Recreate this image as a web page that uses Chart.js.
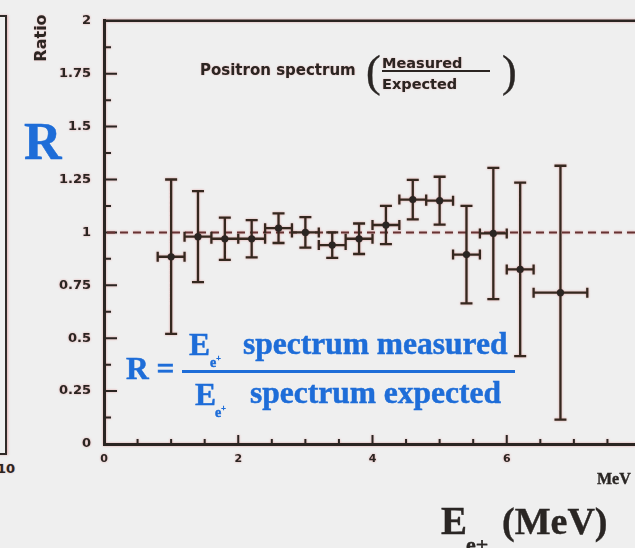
<!DOCTYPE html>
<html>
<head>
<meta charset="utf-8">
<title>Positron spectrum ratio</title>
<script src="https://cdn.jsdelivr.net/npm/chart.js@4/dist/chart.umd.min.js"></script>
<style>
  html, body { margin: 0; padding: 0; background: #efefef; overflow: hidden; }
  #wrap { position: relative; width: 635px; height: 548px; overflow: hidden; background: #efefef; }
  #c { position: absolute; left: 0; top: 0; filter: drop-shadow(0 0 1.2px rgba(220, 120, 120, 0.6)); }
  .t { position: absolute; white-space: nowrap; line-height: 1; margin: 0; }
  .sans { font-family: "DejaVu Sans", sans-serif; font-weight: bold; color: #2b2522;
          text-shadow: 0 0 1.5px rgba(220, 120, 120, 0.6); }
  .serif { font-family: "Liberation Serif", "Times New Roman", serif; font-weight: bold; }
  .blue { color: #1e6dd8; -webkit-text-stroke: 0.5px #1e6dd8; }
  .dark { color: #2a2624; -webkit-text-stroke: 0.4px #2a2624; }
  .bar { position: absolute; }
  #leftPanel { position: absolute; left: -10px; top: 15px; width: 17px; height: 440px;
               box-sizing: border-box; border: 2.5px solid #2f2a27;
               box-shadow: 1px 0 2px rgba(220, 120, 120, 0.5); }
</style>
</head>
<body>
<div id="wrap">
  <!-- edge of the neighbouring panel -->
  <div id="leftPanel"></div>
  <div class="t sans" style="left:-3px; top:462px; font-size:13px;">10</div>

  <canvas id="c" width="660" height="548"></canvas>

  <!-- axis titles -->
  <div class="t sans" style="left:41px; top:38px; font-size:16px; transform: translate(-50%, -50%) rotate(-90deg);">Ratio</div>
  <div class="t serif blue" style="left:24px; top:116px; font-size:52px;">R</div>
  <div class="t serif dark" style="left:597px; top:471px; font-size:16px;">MeV</div>
  <div class="t serif dark" style="left:441px; top:501px; font-size:39px;">E</div>
  <div class="t serif dark" style="left:466px; top:534px; font-size:22px;">e+</div>
  <div class="t serif dark" style="left:502px; top:502px; font-size:38px;">(MeV)</div>

  <!-- panel caption -->
  <div class="t sans" style="left:200px; top:63px; font-size:15px;">Positron spectrum</div>
  <div class="t serif dark" style="left:366px; top:50px; font-size:44px; font-weight:normal;">(</div>
  <div class="t sans" style="left:382px; top:56px; font-size:14.5px;">Measured</div>
  <div class="bar" style="left:382px; top:70px; width:108px; height:2px; background:#2b2522;"></div>
  <div class="t sans" style="left:382px; top:77px; font-size:14.5px;">Expected</div>
  <div class="t serif dark" style="left:502px; top:50px; font-size:44px; font-weight:normal;">)</div>

  <!-- definition of R -->
  <div class="t serif blue" style="left:126px; top:353px; font-size:31.5px;">R =</div>
  <div class="t serif blue" style="left:189px; top:329px; font-size:31.5px;">E</div>
  <div class="t serif blue" style="left:210px; top:355px; font-size:14px;">e<sup style="font-size:8px;">+</sup></div>
  <div class="t serif blue" style="left:243px; top:328px; font-size:31.5px;">spectrum measured</div>
  <div class="bar" style="left:182px; top:370px; width:333px; height:3px; background:#1e6dd8;"></div>
  <div class="t serif blue" style="left:195px; top:379px; font-size:31.5px;">E</div>
  <div class="t serif blue" style="left:215px; top:405px; font-size:14px;">e<sup style="font-size:8px;">+</sup></div>
  <div class="t serif blue" style="left:250px; top:377px; font-size:31.5px;">spectrum expected</div>
</div>

<script>
// Measured / expected positron spectrum ratio per energy bin
const energyMeV     = [1.0, 1.4, 1.8, 2.2, 2.6, 3.0, 3.4, 3.8, 4.2, 4.6, 5.0, 5.4, 5.8, 6.2, 6.8];
const binHalfWidth  = [0.2, 0.2, 0.2, 0.2, 0.2, 0.2, 0.2, 0.2, 0.2, 0.2, 0.2, 0.2, 0.2, 0.2, 0.4];
const ratio         = [0.885, 0.98, 0.97, 0.97, 1.02, 1.0, 0.94, 0.97, 1.035, 1.155, 1.15, 0.895, 0.995, 0.825, 0.715];
const ratioError    = [0.365, 0.215, 0.10, 0.088, 0.07, 0.072, 0.06, 0.072, 0.09, 0.093, 0.113, 0.23, 0.31, 0.41, 0.60];
const expectedRatio = 1;

const yTickLabels = ['0', '0.25', '0.5', '0.75', '1', '1.25', '1.5', '1.75', '2'];
const xTickLabels = ['0', '2', '4', '6'];

const INK = '#2b2522';

// Frame, inward tick marks, reference line and error bars
const frameAndErrors = {
  id: 'frameAndErrors',
  beforeDatasetsDraw(chart) {
    const { ctx, chartArea: a, scales: { x, y } } = chart;
    ctx.save();
    ctx.strokeStyle = INK;
    ctx.lineCap = 'butt';

    // top edge of the frame
    ctx.lineWidth = 2.5;
    ctx.beginPath();
    ctx.moveTo(a.left, a.top);
    ctx.lineTo(a.right, a.top);
    ctx.stroke();

    // inward ticks on the ratio axis (major 0.25, minor 0.125)
    ctx.lineWidth = 2;
    ctx.beginPath();
    for (let k = 1; k < 16; k++) {
      const v = y.min + k * 0.125;
      const py = y.getPixelForValue(v);
      const len = (k % 2 === 0) ? 13 : 7;
      ctx.moveTo(a.left, py);
      ctx.lineTo(a.left + len, py);
    }
    // inward ticks on the energy axis (major 2, minor 0.5)
    for (let k = 1; k < 16; k++) {
      const v = x.min + k * 0.5;
      const px = x.getPixelForValue(v);
      const len = (k % 4 === 0) ? 9 : 5;
      ctx.moveTo(px, a.bottom);
      ctx.lineTo(px, a.bottom - len);
    }
    ctx.stroke();

    // expected ratio reference line
    const py1 = y.getPixelForValue(expectedRatio);
    ctx.save();
    ctx.strokeStyle = '#663232';
    ctx.lineWidth = 2;
    ctx.setLineDash([8, 5]);
    ctx.beginPath();
    ctx.moveTo(a.left + 3, py1);
    ctx.lineTo(a.right, py1);
    ctx.stroke();
    ctx.restore();

    // error bars
    ctx.strokeStyle = '#35281f';
    ctx.lineWidth = 2.3;
    const cap = 6;
    ctx.beginPath();
    energyMeV.forEach((e, i) => {
      const px = x.getPixelForValue(e);
      const pyc = y.getPixelForValue(ratio[i]);
      const pyTop = y.getPixelForValue(ratio[i] + ratioError[i]);
      const pyBot = y.getPixelForValue(ratio[i] - ratioError[i]);
      const pxL = x.getPixelForValue(e - binHalfWidth[i]);
      const pxR = x.getPixelForValue(e + binHalfWidth[i]);
      // vertical bar with caps
      ctx.moveTo(px, pyTop); ctx.lineTo(px, pyBot);
      ctx.moveTo(px - cap, pyTop); ctx.lineTo(px + cap, pyTop);
      ctx.moveTo(px - cap, pyBot); ctx.lineTo(px + cap, pyBot);
      // horizontal bar with caps
      ctx.moveTo(pxL, pyc); ctx.lineTo(pxR, pyc);
      ctx.moveTo(pxL, pyc - cap + 1); ctx.lineTo(pxL, pyc + cap - 1);
      ctx.moveTo(pxR, pyc - cap + 1); ctx.lineTo(pxR, pyc + cap - 1);
    });
    ctx.stroke();
    ctx.restore();
  }
};

const tickFont = (size) => ({ family: 'DejaVu Sans', size: size, weight: 'bold' });

new Chart(document.getElementById('c'), {
  type: 'scatter',
  data: {
    datasets: [{
      data: energyMeV.map((e, i) => ({ x: e, y: ratio[i] })),
      pointRadius: 3.6,
      pointBackgroundColor: INK,
      pointBorderWidth: 0,
      showLine: false
    }]
  },
  options: {
    responsive: false,
    animation: false,
    devicePixelRatio: 1,
    layout: { padding: { left: 0, top: 17, right: 19, bottom: 64 } },
    plugins: { legend: { display: false }, tooltip: { enabled: false }, title: { display: false } },
    scales: {
      x: {
        type: 'linear',
        min: 0,
        max: 8,
        afterFit(scale) { scale.height = 40; },
        grid: { display: false, drawTicks: false },
        border: { display: true, width: 3, color: INK },
        ticks: {
          stepSize: 2,
          includeBounds: false,
          padding: 9,
          color: INK,
          font: tickFont(11),
          maxRotation: 0,
          callback: (v, i) => xTickLabels[i] ?? ''
        }
      },
      y: {
        type: 'linear',
        min: 0,
        max: 2,
        afterFit(scale) { scale.width = 104; },
        grid: { display: false, drawTicks: false },
        border: { display: true, width: 3, color: INK },
        ticks: {
          stepSize: 0.25,
          padding: 13,
          color: INK,
          font: tickFont(13),
          callback: (v, i) => yTickLabels[i] ?? ''
        }
      }
    }
  },
  plugins: [frameAndErrors]
});
</script>
</body>
</html>
